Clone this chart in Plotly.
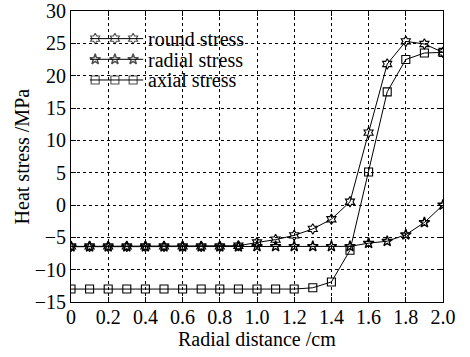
import plotly.graph_objects as go

x = [0, 0.1, 0.2, 0.3, 0.4, 0.5, 0.6, 0.7, 0.8, 0.9, 1.0, 1.1, 1.2, 1.3, 1.4, 1.5, 1.6, 1.7, 1.8, 1.9, 2.0]
round_stress = [-6.4, -6.4, -6.4, -6.4, -6.4, -6.4, -6.4, -6.4, -6.4, -6.3, -5.8, -5.35, -4.7, -3.7, -2.2, 0.5, 11.2, 21.8, 25.3, 24.9, 23.6]
radial_stress = [-6.45, -6.45, -6.45, -6.45, -6.45, -6.45, -6.45, -6.45, -6.45, -6.45, -6.4, -6.4, -6.4, -6.4, -6.4, -6.4, -5.9, -5.6, -4.6, -2.7, 0.0]
axial_stress = [-13, -13, -13, -13, -13, -13, -13, -13, -13, -13, -13, -13, -13, -12.8, -11.9, -7.0, 5.1, 17.5, 22.5, 23.5, 23.6]

series_names = ["round stress", "radial stress", "axial stress"]

x_tickvals = [0, 0.2, 0.4, 0.6, 0.8, 1.0, 1.2, 1.4, 1.6, 1.8, 2.0]
x_ticktext = ["0", "0.2", "0.4", "0.6", "0.8", "1.0", "1.2", "1.4", "1.6", "1.8", "2.0"]
y_tickvals = [30, 25, 20, 15, 10, 5, 0, -5, -10, -15]
y_ticktext = ["30", "25", "20", "15", "10", "5", "0", "\u22125", "\u221210", "\u221215"]

font = "Liberation Serif, Times New Roman, serif"

# legend layout (paper fractions of the plot area)
LEG_ROWS_Y = [0.905, 0.834, 0.763]
LEG_SAMPLE_X = [0.051, 0.065, 0.118, 0.167, 0.194]
LEG_SAMPLE_SIZES = [0, 8, 8, 8, 0]
LEG_TEXT_X = 0.203

fig = go.Figure()
series = [
    (series_names[0], round_stress, "hexagram-open", 1.1),
    (series_names[1], radial_stress, "star-open", 1.4),
    (series_names[2], axial_stress, "square-open", 1.1),
]
for i, (name, ys, sym, mw) in enumerate(series):
    fig.add_trace(go.Scatter(
        x=x, y=ys, name=name, mode="lines+markers", showlegend=False,
        line=dict(color="black", width=1),
        marker=dict(symbol=sym, size=8, color="black", line=dict(color="black", width=mw)),
    ))
    # legend sample drawn on a hidden overlay axis
    fig.add_trace(go.Scatter(
        x=LEG_SAMPLE_X, y=[LEG_ROWS_Y[i]] * len(LEG_SAMPLE_X),
        xaxis="x2", yaxis="y2", mode="lines+markers", showlegend=False, hoverinfo="skip",
        line=dict(color="black", width=1),
        marker=dict(symbol=sym, size=LEG_SAMPLE_SIZES, color="black", line=dict(color="black", width=mw)),
    ))
    fig.add_annotation(
        x=LEG_TEXT_X, y=LEG_ROWS_Y[i], xref="paper", yref="paper",
        text=name, showarrow=False, xanchor="left", yanchor="middle",
        font=dict(family=font, size=20, color="black"), height=19, borderpad=0,
    )

# axis titles placed as annotations for exact position
fig.add_annotation(
    x=0.5, y=-0.127, xref="paper", yref="paper", text="Radial distance /cm",
    showarrow=False, xanchor="center", yanchor="middle",
    font=dict(family=font, size=20, color="black"), height=19, borderpad=0,
)
fig.add_annotation(
    x=-0.132, y=0.5, xref="paper", yref="paper", text="Heat stress /MPa",
    showarrow=False, xanchor="center", yanchor="middle", textangle=-90,
    font=dict(family=font, size=20, color="black"), borderpad=0,
)

axis_common = dict(
    showline=True, linecolor="black", linewidth=1, mirror="ticks",
    ticks="inside", ticklen=5, tickcolor="black",
    showgrid=True, gridcolor="black", gridwidth=1, griddash="3px,3px",
    zeroline=False, tickfont=dict(family=font, size=20, color="black"),
    ticklabeloverflow="allow", automargin=False,
)

fig.update_xaxes(range=[0, 2.0], tickvals=x_tickvals, ticktext=x_ticktext,
                 ticklabelstandoff=-3, **axis_common)
fig.update_yaxes(range=[-15, 30], tickvals=y_tickvals, ticktext=y_ticktext,
                 **axis_common)

fig.update_layout(
    width=470, height=357,
    margin=dict(l=71, r=27, t=11, b=55),
    paper_bgcolor="white", plot_bgcolor="white",
    font=dict(family=font, size=20, color="black"),
    xaxis2=dict(overlaying="x", range=[0, 1], visible=False, fixedrange=True),
    yaxis2=dict(overlaying="y", range=[0, 1], visible=False, fixedrange=True),
    showlegend=False,
)

fig.write_html("out.html")
